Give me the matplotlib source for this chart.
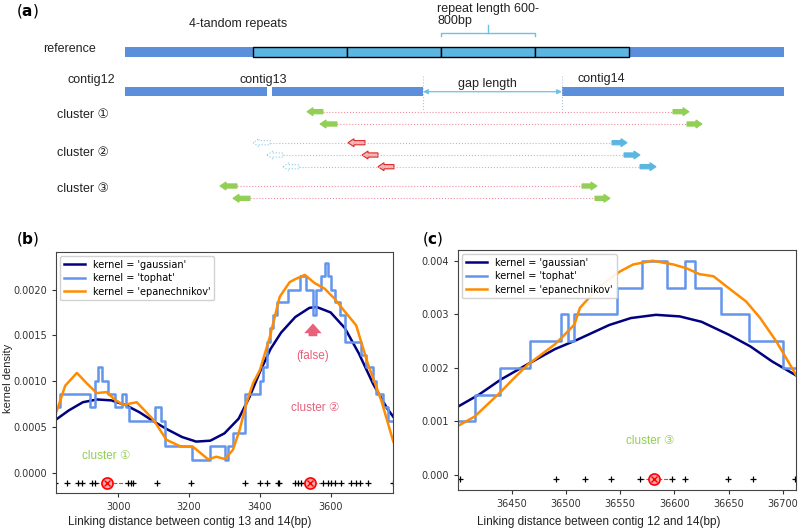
import matplotlib.pyplot as plt
import matplotlib.patches as mpatches
from matplotlib.ticker import FormatStrFormatter
import numpy as np

plt.rcParams['font.family'] = ['DejaVu Sans']
TXT = ['Liberation Sans', 'DejaVu Sans']

NAVY = '#000080'
BLUE = '#6495ED'
ORANGE = '#FF8C00'
PINK = '#e8607a'
GREEN = '#92cf55'

# ---------------- panel (b) data: contig 13 - 14 ----------------
b_gauss_x = [2824, 2860, 2900, 2940, 2980, 3020, 3060, 3100, 3140, 3180, 3220, 3260,
             3300, 3340, 3370, 3400, 3430, 3460, 3500, 3540, 3560, 3600, 3640, 3680, 3720,
             3760, 3777]
b_gauss_y = [0.00058, 0.00068, 0.00077, 0.00080, 0.00079, 0.00074, 0.00066, 0.00056, 0.00047,
             0.00039, 0.00034, 0.00035, 0.00043, 0.00059, 0.00082, 0.00110, 0.00135, 0.00153,
             0.00170, 0.00180, 0.00181, 0.00175, 0.00158, 0.00130, 0.00097, 0.00070, 0.00061]

b_epa_x = [2824, 2850, 2883, 2910, 2939, 2967, 2990, 3014, 3052, 3099, 3136, 3174, 3212,
           3254, 3277, 3301, 3324, 3343, 3362, 3381, 3400, 3428, 3456, 3484, 3498, 3527,
           3555, 3583, 3611, 3640, 3672, 3705, 3743, 3777]
b_epa_y = [0.00065, 0.00095, 0.00109, 0.00098, 0.00087, 0.00088, 0.00080, 0.00074, 0.00077,
           0.00058, 0.00036, 0.00029, 0.00028, 0.000146, 0.000175, 0.00015, 0.00025, 0.00047,
           0.00076, 0.00098, 0.00112, 0.00148, 0.00192, 0.00208, 0.00211, 0.00216, 0.00207,
           0.00201, 0.00190, 0.00176, 0.00161, 0.00119, 0.00079, 0.00034]

b_top_x = [2824, 2836, 2920, 2934, 2942, 2953, 2972, 2991, 3010, 3021, 3030, 3104, 3120,
           3132, 3207, 3259, 3301, 3310, 3324, 3357, 3400, 3409, 3419, 3430, 3437, 3447,
           3480, 3513, 3531, 3550, 3560, 3574, 3583, 3592, 3602, 3612, 3625, 3640, 3687,
           3701, 3719, 3729, 3748, 3762, 3777]
b_top_y = [0.00072, 0.00086, 0.00072, 0.00100, 0.00115, 0.00100, 0.00086, 0.00072, 0.00086,
           0.00072, 0.00057, 0.00072, 0.00057, 0.00029, 0.00014, 0.00029, 0.00014, 0.00029,
           0.00043, 0.00086, 0.00100, 0.00115, 0.00143, 0.00158, 0.00172, 0.00186, 0.00200,
           0.00215, 0.00200, 0.00172, 0.00200, 0.00215, 0.00229, 0.00215, 0.00200, 0.00186,
           0.00172, 0.00143, 0.00129, 0.00115, 0.00100, 0.00086, 0.00072, 0.00057, 0.00057]

b_points = [2820, 2854, 2887, 2897, 2925, 2934, 3028, 3035, 3042, 3108, 3205, 3357, 3400,
            3419, 3451, 3454, 3498, 3508, 3517, 3527, 3536, 3578, 3592, 3602, 3611, 3630,
            3658, 3671, 3682, 3705, 3776]
b_centers = [2969, 3543]
b_center_spans = [(2934, 3028), (3517, 3570)]

# ---------------- panel (c) data: contig 12 - 14 ----------------
c_gauss_x = [36401, 36420, 36440, 36465, 36490, 36510, 36540, 36560, 36583, 36605, 36625,
             36650, 36670, 36690, 36712]
c_gauss_y = [0.00128, 0.00150, 0.00178, 0.00207, 0.00235, 0.00252, 0.00280, 0.00293, 0.00299,
             0.00296, 0.00286, 0.00262, 0.00240, 0.00212, 0.00186]

c_epa_x = [36401, 36416, 36439, 36451, 36465, 36490, 36496, 36508, 36513, 36531, 36550, 36562,
           36580, 36599, 36611, 36623, 36636, 36648, 36666, 36679, 36694, 36712]
c_epa_y = [0.00092, 0.00109, 0.00153, 0.00178, 0.00206, 0.00244, 0.00256, 0.00281, 0.00312,
           0.00352, 0.00380, 0.00393, 0.00400, 0.00393, 0.00386, 0.00375, 0.00371, 0.00352,
           0.00324, 0.00293, 0.00249, 0.00187]

c_top_x = [36401, 36416, 36439, 36467, 36496, 36502, 36508, 36547, 36570, 36593, 36610, 36619,
           36643, 36669, 36700, 36712]
c_top_y = [0.0010, 0.0015, 0.0020, 0.0025, 0.0030, 0.0025, 0.0030, 0.0035, 0.0040, 0.0035,
           0.0040, 0.0035, 0.0030, 0.0025, 0.0020, 0.0020]

c_points = [36403, 36491, 36518, 36542, 36568, 36598, 36610, 36649, 36672, 36711]
c_centers = [36581]
c_center_spans = [(36568, 36598)]


def kde_panel(ax, gx, gy, tx, ty, ex, ey, pts, centers, spans, rug_y):
    ax.plot(gx, gy, color=NAVY, lw=1.8, label="kernel = 'gaussian'")
    ax.plot(tx, ty, color=BLUE, lw=1.8, drawstyle='steps-post', label="kernel = 'tophat'")
    ax.plot(ex, ey, color=ORANGE, lw=1.8, label="kernel = 'epanechnikov'")
    for s0, s1 in spans:
        ax.plot([s0, s1], [rug_y, rug_y], color='red', lw=0.8, ls='--', alpha=0.8)
    ax.plot(pts, [rug_y] * len(pts), '+', color='k', ms=5, mew=0.9, clip_on=True)
    ax.plot(centers, [rug_y] * len(centers), 'o', mfc='#f7a8a8', mec='red', ms=8, mew=1.2)
    ax.plot(centers, [rug_y] * len(centers), 'x', color='red', ms=4.5, mew=1.0)
    ax.legend(loc='upper left', fontsize=7, handlelength=2.2, borderaxespad=0.4,
              labelspacing=0.35, edgecolor='#cccccc', framealpha=0.9)
    ax.tick_params(labelsize=7, length=3, colors='#333333')
    for sp in ax.spines.values():
        sp.set_color('#444444')


fig = plt.figure(figsize=(8, 5.3), dpi=100)

# ---------------- panel (b) ----------------
ax_b = fig.add_axes([56 / 800, 37.3 / 530, 337.3 / 800, 240.7 / 530])
kde_panel(ax_b, b_gauss_x, b_gauss_y, b_top_x, b_top_y, b_epa_x, b_epa_y,
          b_points, b_centers, b_center_spans, -0.000109)
ax_b.set_xlim(2824, 3777)
ax_b.set_ylim(-0.000218, 0.00241)
ax_b.set_xticks([3000, 3200, 3400, 3600])
ax_b.set_yticks([0, 0.0005, 0.0010, 0.0015, 0.0020])
ax_b.yaxis.set_major_formatter(FormatStrFormatter('%.4f'))
ax_b.annotate('', xy=(3550, 0.00166), xytext=(3550, 0.00146),
              arrowprops=dict(arrowstyle='simple,head_length=0.5,head_width=0.9,tail_width=0.45',
                              color=PINK, mutation_scale=14, lw=0))
ax_b.text(3548, 0.00127, '(false)', color=PINK, ha='center', va='center', fontsize=8.5, family=TXT)
ax_b.text(3555, 0.00071, 'cluster ②', color=PINK, ha='center', va='center', fontsize=8.5, family=TXT)
ax_b.text(2965, 0.00018, 'cluster ①', color=GREEN, ha='center', va='center', fontsize=8.5, family=TXT)

# ---------------- panel (c) ----------------
ax_c = fig.add_axes([458.3 / 800, 40 / 530, 337.7 / 800, 240 / 530])
kde_panel(ax_c, c_gauss_x, c_gauss_y, c_top_x, c_top_y, c_epa_x, c_epa_y,
          c_points, c_centers, c_center_spans, -0.00008)
ax_c.set_xlim(36401, 36712)
ax_c.set_ylim(-0.00028, 0.0042)
ax_c.set_xticks([36450, 36500, 36550, 36600, 36650, 36700])
ax_c.set_yticks([0, 0.001, 0.002, 0.003, 0.004])
ax_c.yaxis.set_major_formatter(FormatStrFormatter('%.3f'))
ax_c.text(36578, 0.00064, 'cluster ③', color=GREEN, ha='center', va='center', fontsize=8.5, family=TXT)

# axis labels and panel letters (figure pixel coords, origin top-left)
def ftext(x, y, s, **kw):
    fig.text(x / 800, 1 - y / 530, s, **kw)

ftext(190, 522, 'Linking distance between contig 13 and 14(bp)', ha='center', va='center',
      fontsize=8.5, family=TXT, color='#222222')
ftext(599, 522, 'Linking distance between contig 12 and 14(bp)', ha='center', va='center',
      fontsize=8.5, family=TXT, color='#222222')
ftext(8, 378, 'kernel density', rotation=90, ha='center', va='center', fontsize=8,
      family=TXT, color='#222222')
ftext(28, 239, r'($\mathbf{b}$)', ha='center', va='center', fontsize=11)
ftext(433, 239, r'($\mathbf{c}$)', ha='center', va='center', fontsize=11)
ftext(27, 11, r'($\mathbf{a}$)', ha='center', va='center', fontsize=11)

# ---------------- panel (a): schematic ----------------
ax_a = fig.add_axes([0, 315 / 530, 1, 215 / 530])
ax_a.set_xlim(0, 800)
ax_a.set_ylim(215, 0)
ax_a.axis('off')

BAR = '#5b8fdc'
REP = '#5cb6e2'
LBLUE = '#6ec1e4'

# reference with 4 tandem repeats
ref_span = (125, 784)
repeat_edges = [253, 347, 441, 535, 629]
ax_a.add_patch(mpatches.Rectangle((ref_span[0], 47.3), ref_span[1] - ref_span[0], 9.4,
                                  fc=BAR, ec='none'))
for r0, r1 in zip(repeat_edges[:-1], repeat_edges[1:]):
    ax_a.add_patch(mpatches.Rectangle((r0, 47.3), r1 - r0, 9.4, fc=REP, ec='k', lw=1.0))

# contigs
ax_a.add_patch(mpatches.Rectangle((125, 87.3), 423 - 125, 8.4, fc=BAR, ec='none'))
ax_a.add_patch(mpatches.Rectangle((267, 87.3), 5, 8.4, fc='white', ec='none'))
ax_a.add_patch(mpatches.Rectangle((562, 87.3), 784 - 562, 8.4, fc=BAR, ec='none'))
for gx in (423, 562):
    ax_a.plot([gx, gx], [76, 110], color='#a9c8e4', lw=0.8, ls=':')
ax_a.annotate('', xy=(423, 91.7), xytext=(562, 91.7),
              arrowprops=dict(arrowstyle='<|-|>', color=LBLUE, lw=0.9,
                              mutation_scale=7, shrinkA=0, shrinkB=0))

# bracket for repeat length
ax_a.plot([441, 441, 535, 535], [36, 33.3, 33.3, 36], color=LBLUE, lw=1.0)
ax_a.plot([488, 488], [33.3, 24.5], color=LBLUE, lw=1.0)

kw = dict(family=TXT, fontsize=9, color='#222222', va='center')
ax_a.text(238, 24, '4-tandom repeats', ha='center', **kw)
ax_a.text(437, 15, 'repeat length 600-\n800bp', ha='left', linespacing=1.1, **kw)
ax_a.text(69, 49, 'reference', ha='center', **kw)
ax_a.text(91, 80, 'contig12', ha='center', **kw)
ax_a.text(263, 80, 'contig13', ha='center', **kw)
ax_a.text(601, 79, 'contig14', ha='center', **kw)
ax_a.text(487, 84, 'gap length', ha='center', **kw)
ax_a.text(83, 115, 'cluster ①', ha='center', **kw)
ax_a.text(83, 152.7, 'cluster ②', ha='center', **kw)
ax_a.text(83, 189.3, 'cluster ③', ha='center', **kw)


def block_arrow(tail, head, y, fc, ec=None, ls='-'):
    ax_a.add_patch(mpatches.FancyArrow(tail, y, head - tail, 0, width=4.2, head_width=8,
                                       head_length=6, length_includes_head=True,
                                       fc=fc, ec=ec if ec else fc, lw=0.8, ls=ls))


# read pairs: (left head, left tail, right tail, right head, y)
green_pairs = [(307, 323, 673, 689, 111.7), (320, 337, 687, 702, 124),
               (220, 237, 582, 597, 186), (233, 250, 595, 610, 198.3)]
for lh, lt, rt, rh, y in green_pairs:
    ax_a.plot([lt, rt], [y, y], color='#ee8fa0', lw=0.8, ls=':')
    block_arrow(lt, lh, y, GREEN)
    block_arrow(rt, rh, y, GREEN)

# cluster 2: (dotted head, dotted tail, red head, red tail, blue tail, blue head, y)
blue_rows = [(253, 270, 348, 365, 612, 627, 142.7),
             (267, 283, 362, 378, 624, 640, 155),
             (283, 299, 378, 394, 640, 656, 166.7)]
for dh, dt, rh, rt, bt, bh, y in blue_rows:
    ax_a.plot([dt, bt], [y, y], color='#8fcbe8', lw=0.8, ls=':')
    block_arrow(dt, dh, y, 'white', ec='#8fcbe8', ls=':')
    block_arrow(rt, rh, y, '#f5b8b8', ec='#e02828')
    block_arrow(bt, bh, y, REP)

fig.savefig('out.png', dpi=100)
